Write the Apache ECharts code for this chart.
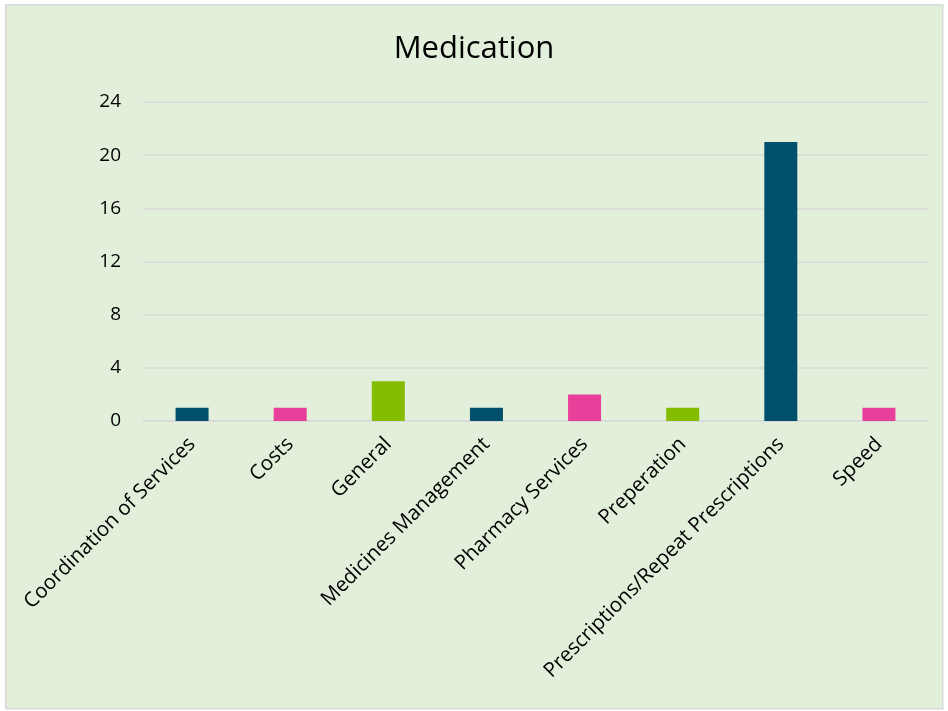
<!DOCTYPE html>
<html>
<head>
<meta charset="utf-8">
<script src="https://cdn.jsdelivr.net/npm/echarts@6/dist/echarts.min.js"></script>
<style>
  html, body { margin: 0; padding: 0; background: #ffffff; }
  #chart { width: 948px; height: 711px; }
</style>
</head>
<body>
<div id="chart"></div>
<script>
// Medication feedback counts by topic
const categories = [
  'Coordination of Services',
  'Costs',
  'General',
  'Medicines Management',
  'Pharmacy Services',
  'Preperation',
  'Prescriptions/Repeat Prescriptions',
  'Speed'
];
const counts = [1, 1, 3, 1, 2, 1, 21, 1];
const yTicks = [0, 4, 8, 12, 16, 20, 24];
const palette = ['#00506B', '#E8409A', '#84BD00'];

const chart = echarts.init(document.getElementById('chart'), null, { renderer: 'canvas' });
const font = '"Open Sans", "Noto Sans", sans-serif';

chart.setOption({
  backgroundColor: '#ffffff',
  animation: false,
  graphic: [{
    type: 'rect',
    left: 5, top: 4,
    shape: { width: 937, height: 704 },
    style: { fill: '#E2EFDA', stroke: '#D9D9D9', lineWidth: 1.5 },
    z: -10
  }],
  title: {
    text: 'Medication',
    left: 'center',
    top: 29,
    textStyle: { fontFamily: font, fontSize: 31, fontWeight: 'normal', color: '#000000' }
  },
  grid: { left: 143, right: 20, top: 102, bottom: 290, containLabel: false },
  xAxis: {
    type: 'category',
    data: categories,
    axisLine: { show: true, lineStyle: { color: '#D9D9D9', width: 1.5 } },
    axisTick: { show: false },
    axisLabel: {
      rotate: 45,
      interval: 0,
      margin: 20,
      fontFamily: font,
      fontSize: 20.5,
      color: '#000000'
    }
  },
  yAxis: {
    type: 'value',
    min: yTicks[0],
    max: yTicks[yTicks.length - 1],
    interval: yTicks[1] - yTicks[0],
    axisLine: { show: false },
    axisTick: { show: false },
    splitLine: { lineStyle: { color: '#D9D9D9', width: 1.5 } },
    axisLabel: { margin: 22, fontFamily: font, fontSize: 19, color: '#000000' }
  },
  series: [{
    type: 'bar',
    data: counts.map((v, i) => ({ value: v, itemStyle: { color: palette[i % palette.length] } })),
    barWidth: 33
  }]
});
</script>
</body>
</html>
